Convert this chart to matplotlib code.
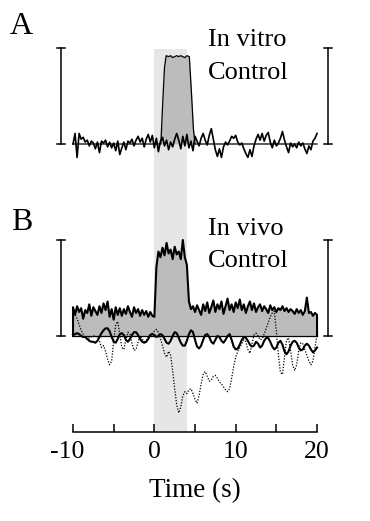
import numpy as np
import matplotlib
matplotlib.use("Agg")
import matplotlib.pyplot as plt
from matplotlib.transforms import ScaledTranslation

plt.rcParams['font.family'] = ['Liberation Serif', 'DejaVu Serif']

# time grid (s), 0.25 s steps from -10 to 20
t = np.arange(-10, 20.01, 0.25)

# --- panel A (in vitro) ---
a_noise = [
    0.00, 0.11, -0.14, 0.11, 0.05, 0.07, 0.02, 0.04,
    -0.02, 0.03, 0.01, -0.05, 0.02, -0.09, 0.03, 0.01,
    0.04, -0.03, 0.02, -0.04, 0.01, -0.07, 0.03, -0.11,
    -0.04, 0.02, -0.06, 0.03, 0.01, 0.05, -0.02, 0.04,
    0.08, 0.02, 0.06, -0.03, 0.05, 0.10, 0.02, 0.09,
    -0.04, 0.06, -0.08, 0.03, 0.07, -0.02, 0.04, -0.06,
    0.02, -0.03, 0.05, 0.11, 0.04, -0.05, 0.08, -0.02,
    0.10, -0.04, 0.03, -0.07, 0.08, 0.03, -0.02, 0.06,
    0.11, 0.04, -0.01, 0.09, 0.16, 0.05, -0.06, -0.13,
    -0.05, -0.14, -0.03, 0.02, -0.01, 0.03, 0.08, 0.06,
    0.09, 0.02, -0.01, 0.01, -0.05, -0.10, -0.14, -0.06,
    -0.13, -0.02, 0.05, 0.10, 0.04, 0.11, 0.03, 0.09,
    0.12, 0.02, -0.04, 0.04, -0.02, 0.01, 0.06, 0.13,
    0.04, -0.03, -0.09, 0.01, -0.03, 0.00, -0.04, 0.02,
    -0.02, 0.01, -0.05, -0.10, -0.02, -0.06, 0.03, 0.06,
    0.11,
]
a_resp_t = [-10, 0.8, 1.05, 1.25, 1.45, 1.75, 2.0, 2.25, 2.5, 2.75, 3.0,
            3.25, 3.5, 3.75, 4.0, 4.3, 4.55, 4.8, 5.0, 20]
a_resp = [0, 0, 0.47, 0.80, 0.92, 0.91, 0.92, 0.90, 0.91, 0.92, 0.91,
          0.92, 0.91, 0.90, 0.92, 0.91, 0.55, 0.16, 0, 0]

# --- panel B (in vivo) ---
b_fill = [
    0.30, 0.22, 0.31, 0.25, 0.29, 0.18, 0.27, 0.24,
    0.33, 0.21, 0.30, 0.26, 0.22, 0.31, 0.24, 0.34,
    0.27, 0.36, 0.20, 0.28, 0.17, 0.30, 0.22, 0.29,
    0.21, 0.28, 0.23, 0.31, 0.25, 0.20, 0.30, 0.24,
    0.28, 0.21, 0.27, 0.22, 0.26, 0.20, 0.25, 0.21,
    0.20, 0.72, 0.88, 0.82, 0.92, 0.84, 0.97, 0.86,
    0.90, 0.80, 0.93, 0.85, 0.88, 0.80, 1.00, 0.82,
    0.74, 0.36, 0.28, 0.31, 0.25, 0.32, 0.27, 0.22,
    0.33, 0.26, 0.35, 0.24, 0.30, 0.37, 0.25, 0.33,
    0.28, 0.36, 0.23, 0.31, 0.39, 0.27, 0.33, 0.25,
    0.35, 0.29, 0.38, 0.27, 0.33, 0.24, 0.31, 0.36,
    0.27, 0.34, 0.25, 0.30, 0.33, 0.26, 0.31, 0.28,
    0.24, 0.32, 0.27, 0.30, 0.25, 0.29, 0.27, 0.31,
    0.26, 0.29, 0.25, 0.28, 0.26, 0.23, 0.28, 0.24,
    0.27, 0.22, 0.26, 0.40, 0.24, 0.25, 0.21, 0.24,
    0.22,
]
b_solid = [
    0.01, 0.02, 0.03, 0.02, 0.00, -0.01, -0.01, -0.03,
    -0.05, -0.06, -0.06, -0.07, -0.05, -0.01, 0.03, 0.06,
    0.08, 0.08, 0.05, -0.01, -0.06, -0.07, -0.03, 0.02,
    0.03, 0.01, -0.04, -0.06, -0.03, 0.01, 0.04, 0.04,
    0.01, -0.03, -0.06, -0.07, -0.06, -0.03, 0.01, 0.02,
    0.01, -0.01, 0.00, 0.02, 0.01, -0.03, -0.07, -0.08,
    -0.05, 0.00, 0.04, 0.03, -0.02, -0.07, -0.10, -0.10,
    -0.05, 0.02, 0.06, 0.04, -0.04, -0.11, -0.13, -0.10,
    -0.04, 0.01, 0.02, -0.01, -0.06, -0.08, -0.04, 0.00,
    -0.01, -0.05, -0.07, -0.04, 0.00, 0.02, -0.04, -0.11,
    -0.14, -0.13, -0.09, -0.04, -0.01, -0.02, -0.05, -0.09,
    -0.11, -0.10, -0.06, -0.08, -0.12, -0.10, -0.05, -0.02,
    -0.02, -0.06, -0.11, -0.14, -0.12, -0.07, -0.05, -0.09,
    -0.16, -0.19, -0.16, -0.10, -0.06, -0.05, -0.07, -0.12,
    -0.15, -0.14, -0.10, -0.08, -0.10, -0.14, -0.17, -0.15,
    -0.12,
]
b_dotted = [
    0.24, 0.22, 0.18, 0.12, 0.06, 0.02, -0.02, -0.03,
    -0.02, -0.01, 0.00, 0.00, -0.01, -0.05, -0.12, -0.10,
    -0.16, -0.24, -0.30, -0.26, -0.05, 0.12, 0.15, 0.02,
    -0.12, -0.14, -0.04, 0.04, 0.02, -0.08, -0.15, -0.14,
    -0.06, 0.00, -0.03, -0.06, -0.05, -0.01, 0.02, 0.03,
    0.05, 0.07, 0.04, -0.03, -0.10, -0.18, -0.22, -0.16,
    -0.20, -0.36, -0.55, -0.72, -0.80, -0.74, -0.62, -0.58,
    -0.60, -0.56, -0.55, -0.60, -0.66, -0.70, -0.62, -0.50,
    -0.40, -0.37, -0.42, -0.47, -0.46, -0.42, -0.41, -0.44,
    -0.48, -0.50, -0.53, -0.56, -0.58, -0.55, -0.44, -0.32,
    -0.22, -0.16, -0.12, -0.08, -0.04, -0.06, -0.14, -0.18,
    -0.08, 0.01, 0.03, 0.00, -0.04, -0.03, 0.02, 0.08,
    0.14, 0.20, 0.24, 0.26, 0.05, -0.20, -0.38, -0.40,
    -0.22, -0.04, -0.02, -0.15, -0.30, -0.36, -0.30, -0.15,
    -0.07, -0.08, -0.14, -0.20, -0.26, -0.30, -0.26, -0.12,
    0.02,
]

x_ticks = [-10, 0, 10, 20]
x_tick_labels = ['-10', '0', '10', '20']
x_minor = [-5, 5, 15]
stim = (0, 4)

a_off = 2.0   # vertical offset of panel A (in scale-bar units)
fill_grey = '#bcbcbc'
band_grey = '#e6e6e6'

fig = plt.figure(figsize=(3.7, 5.21), dpi=100)
ax = fig.add_axes([0.1314, 0.1708, 0.7914, 0.7555])
ax.set_xlim(-13, 23)
ax.set_ylim(-1, 3.1)

# stimulus band
ax.fill_between(stim, -1, a_off + 0.99, color=band_grey, lw=0, zorder=0)

# panel A
a_resp_y = np.array(a_resp) + a_off
ax.fill_between(a_resp_t, a_off, a_resp_y, color=fill_grey, lw=0, zorder=1)
ax.plot(a_resp_t, a_resp_y, color='black', lw=0.9, zorder=3)
ax.plot(t, np.array(a_noise) + a_off, color='black', lw=1.2, zorder=4)

# panel B
ax.fill_between(t, 0, b_fill, color=fill_grey, lw=0, zorder=1)
ax.plot(np.r_[t[0], t, t[-1]], np.r_[0, b_fill, 0], color='black', lw=1.5, zorder=3)
ax.plot([t[0], t[-1]], [0, 0], color='black', lw=0.9, zorder=3)
ax.plot(t, b_dotted, color='black', lw=0.9, ls=(0, (1, 1.3)), zorder=4)
ax.plot(t, b_solid, color='black', lw=1.5, zorder=5)

# scale bars
for xb in (-11.5, 21.35):
    for y0 in (0, a_off):
        ax.plot([xb, xb], [y0, y0 + 1], color='black', lw=1.1)
        ax.plot([xb - 0.5, xb + 0.5], [y0, y0], color='black', lw=1.1)
        ax.plot([xb - 0.5, xb + 0.5], [y0 + 1, y0 + 1], color='black', lw=1.1)

# labels
ax.text(6.6, 3.02, 'In vitro', fontsize=19, va='baseline')
ax.text(6.6, 2.68, 'Control', fontsize=19, va='baseline')
ax.text(6.6, 1.05, 'In vivo', fontsize=19, va='baseline')
ax.text(6.6, 0.716, 'Control', fontsize=19, va='baseline')
fig.text(10 / 370, 1 - 34 / 521, 'A', fontsize=23, va='baseline')
fig.text(11 / 370, 1 - 230 / 521, 'B', fontsize=23, va='baseline')

# axes styling
for side in ('top', 'right', 'left'):
    ax.spines[side].set_visible(False)
ax.spines['bottom'].set_bounds(-10, 20)
ax.spines['bottom'].set_linewidth(1.1)
ax.set_yticks([])
ax.set_xticks(x_ticks)
ax.set_xticklabels(x_tick_labels)
ax.set_xticks(x_minor, minor=True)
ax.tick_params(axis='x', which='both', direction='in', length=6, width=1.1,
               labelsize=18.5, pad=6.5)
ax.set_xlabel('Time (s)', fontsize=19.5, labelpad=11)

# the minus sign of "-10" hangs to the left of the tick
lab = ax.get_xticklabels()[0]
lab.set_transform(lab.get_transform() + ScaledTranslation(-0.06, 0, fig.dpi_scale_trans))

fig.savefig('out.png', dpi=100)
